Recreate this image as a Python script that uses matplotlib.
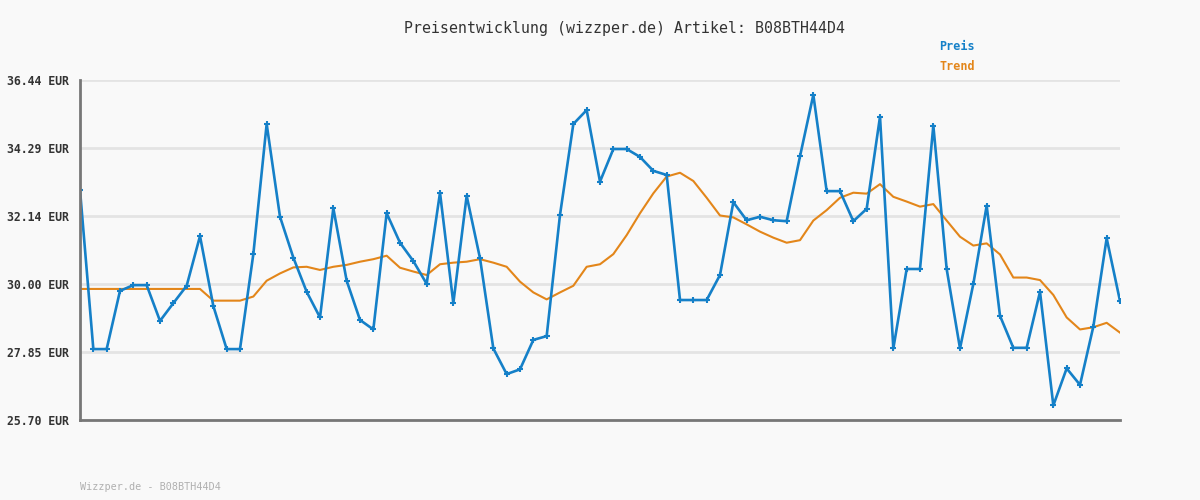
import matplotlib
matplotlib.use("Agg")
import matplotlib.pyplot as plt

title = "Preisentwicklung (wizzper.de) Artikel: B08BTH44D4"
footer = "Wizzper.de - B08BTH44D4"
y_ticks = [25.70, 27.85, 30.00, 32.14, 34.29, 36.44]
y_tick_labels = ["25.70 EUR", "27.85 EUR", "30.00 EUR", "32.14 EUR", "34.29 EUR", "36.44 EUR"]

preis = [32.97, 27.94, 27.94, 29.78, 29.96, 29.96, 28.83, 29.39, 29.94, 31.51,
         29.30, 27.94, 27.94, 30.94, 35.05, 32.12, 30.83, 29.75, 28.94, 32.39,
         30.10, 28.86, 28.56, 32.23, 31.30, 30.72, 30.00, 32.88, 29.39, 32.78,
         30.81, 27.96, 27.15, 27.30, 28.23, 28.35, 32.18, 35.05, 35.49, 33.23,
         34.26, 34.26, 34.01, 33.57, 33.44, 29.49, 29.49, 29.49, 30.28, 32.58,
         32.01, 32.12, 32.01, 31.98, 34.03, 35.97, 32.93, 32.93, 31.98, 32.37,
         35.28, 27.96, 30.47, 30.47, 35.00, 30.47, 27.96, 30.00, 32.47, 28.99,
         27.98, 27.98, 29.75, 26.16, 27.33, 26.81, 28.65, 31.44, 29.46]

trend = [29.84, 29.84, 29.84, 29.84, 29.84, 29.84, 29.84, 29.84, 29.84, 29.84,
         29.47, 29.47, 29.47, 29.60, 30.10, 30.33, 30.52, 30.54, 30.44, 30.54,
         30.60, 30.70, 30.78, 30.89, 30.51, 30.39, 30.28, 30.62, 30.67, 30.70,
         30.78, 30.67, 30.54, 30.07, 29.73, 29.51, 29.73, 29.94, 30.54, 30.62,
         30.94, 31.54, 32.23, 32.86, 33.39, 33.51, 33.25, 32.72, 32.16, 32.10,
         31.88, 31.65, 31.46, 31.30, 31.38, 32.00, 32.33, 32.72, 32.88, 32.85,
         33.15, 32.75, 32.60, 32.44, 32.52, 32.00, 31.49, 31.21, 31.28, 30.93,
         30.20, 30.20, 30.12, 29.65, 28.94, 28.56, 28.63, 28.77, 28.46]

blue = "#1580c8"
orange = "#e3861a"
bg = "#f9f9f9"
mono = "DejaVu Sans Mono"

fig = plt.figure(figsize=(12, 5), dpi=100, facecolor=bg)
ax = fig.add_axes([80 / 1200, 1 - 420 / 500, 1040 / 1200, 340 / 500], facecolor=bg)

x = list(range(len(preis)))
ax.plot(x, trend, color=orange, lw=1.5, zorder=3)
ax.plot(x, preis, color=blue, lw=1.9, marker="+", markersize=4, mew=1.5, zorder=4)

ax.set_xlim(0, len(preis) - 1)
ax.set_ylim(y_ticks[0], y_ticks[-1])
ax.set_yticks(y_ticks)
ax.set_yticklabels(y_tick_labels, fontfamily=mono, fontweight="bold", fontsize=8.3, color="#333333")
ax.set_xticks([])
ax.tick_params(axis="y", length=0, pad=8)
ax.grid(axis="y", color="#e4e4e4", lw=2, zorder=0)
for s in ["top", "right"]:
    ax.spines[s].set_visible(False)
for s in ["left", "bottom"]:
    ax.spines[s].set_color("#777777")
    ax.spines[s].set_linewidth(2)
    ax.spines[s].set_zorder(5)

fig.text(624 / 1200, 1 - 28 / 500, title, ha="center", va="center",
         fontfamily=mono, fontsize=10.7, color="#333333")
fig.text(975 / 1200, 1 - 47 / 500, "Preis", ha="right", va="center",
         fontfamily=mono, fontweight="bold", fontsize=8.5, color=blue)
fig.text(975 / 1200, 1 - 67 / 500, "Trend", ha="right", va="center",
         fontfamily=mono, fontweight="bold", fontsize=8.5, color=orange)
fig.text(80 / 1200, 1 - 487 / 500, footer, ha="left", va="center",
         fontfamily=mono, fontsize=7.3, color="#b0b0b0")

fig.savefig("out.png", dpi=100, facecolor=bg)
